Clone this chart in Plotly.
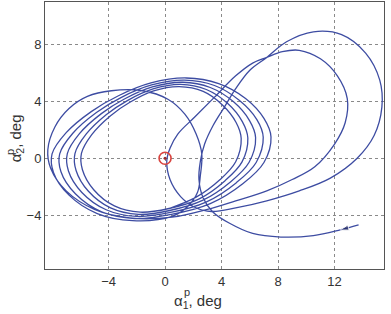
import plotly.graph_objects as go

# ---- data (alpha1^p, alpha2^p in deg) ----
# transient: start (arrow) -> bottom arc -> rise -> outer loop -> "(" past origin -> inner loop
start_x = [13.7, 12.4, 10.5, 8.2, 6.2, 4.6, 3.4, 2.7, 2.4, 2.5, 2.8, 3.4, 4.2, 5.0, 6.0, 7.2,
           8.6, 10.5, 12.5, 14.2, 15.2, 15.35, 14.8, 13.6, 11.7, 9.5, 7.2, 5.0, 3.3, 2.1, 1.1,
           0.35, 0.12, 0.35, 0.9, 2.1, 3.5, 5.0, 6.2, 7.2, 8.3, 9.5, 11.0, 12.2, 12.9, 12.75,
           12.0, 10.6, 9.0, 7.2, 5.0, 3.0]
start_y = [-4.7, -5.05, -5.45, -5.55, -5.3, -4.6, -3.8, -2.8, -1.5, -0.2, 1.0, 2.3, 3.6, 4.9, 6.2, 7.1,
           8.2, 8.9, 8.7, 7.4, 5.5, 3.6, 1.6, 0.0, -1.4, -2.3, -3.0, -3.5, -3.75, -3.45, -2.7,
           -1.5, -0.2, 0.7, 1.7, 2.9, 4.3, 5.8, 6.7, 7.1, 7.5, 7.6, 7.0, 5.8, 4.2, 2.5,
           1.0, -0.6, -1.5, -2.3, -3.0, -3.6]

# first bundle loop with the wide top-left arc
loop1_x = [0.5, -2.5, -5.0, -7.0, -8.1, -8.3, -7.8, -6.8, -5.5, -3.8, -1.6, 0.2, 1.4, 2.2, 2.6, 2.5, 2.3, 1.6]
loop1_y = [-4.15, -4.2, -3.6, -2.3, -0.7, 0.6, 2.2, 3.5, 4.35, 4.75, 4.75, 4.15, 3.1, 1.7, 0.3, -1.2, -2.4, -3.4]

# settling loops of the bundle
loopA_x = [0.5, -2.3, -4.8, -6.8, -7.9, -8.0, -7.0, -5.2, -3.3, -1.0, 1.5, 3.8, 5.7, 7.0, 7.5, 7.0, 5.5, 3.2]
loopA_y = [-4.1, -4.4, -3.9, -2.6, -1.0, 0.3, 1.8, 3.3, 4.4, 5.3, 5.65, 5.25, 4.2, 2.8, 1.5, -0.3, -1.8, -3.2]
loopB_x = [0.44, -2.16, -4.49, -6.35, -7.37, -7.46, -6.53, -4.86, -3.09, -0.95, 1.37, 3.5, 5.25, 6.5, 6.95, 6.45, 5.05, 2.9]
loopB_y = [-3.96, -4.25, -3.77, -2.50, -0.95, 0.31, 1.76, 3.22, 4.29, 5.16, 5.50, 5.12, 4.08, 2.72, 1.47, -0.3, -1.72, -3.09]
loopC_x = [0.39, -2.02, -4.17, -5.89, -6.84, -6.92, -6.06, -4.51, -2.88, -0.90, 1.25, 3.2, 4.85, 5.98, 6.41, 5.95, 4.65, 2.65]
loopC_y = [-3.82, -4.10, -3.63, -2.41, -0.90, 0.32, 1.73, 3.14, 4.17, 5.02, 5.35, 4.98, 3.97, 2.65, 1.45, -0.28, -1.65, -2.97]
loopD_x = [0.33, -1.88, -3.86, -5.44, -6.30, -6.38, -5.59, -4.17, -2.67, -0.85, 1.12, 2.92, 4.42, 5.47, 5.86, 5.45, 4.25, 2.42]
loopD_y = [-3.68, -3.95, -3.50, -2.31, -0.86, 0.33, 1.69, 3.06, 4.06, 4.88, 5.20, 4.84, 3.87, 2.58, 1.42, -0.26, -1.58, -2.86]
loopE_x = [0.28, -1.76, -3.59, -5.05, -5.85, -5.92, -5.19, -3.88, -2.49, -0.81, 1.01, 2.7, 4.06, 5.03, 5.39, 5.0, 3.9, 2.2, 0.28]
loopE_y = [-3.54, -3.80, -3.36, -2.22, -0.81, 0.34, 1.66, 2.98, 3.94, 4.74, 5.04, 4.7, 3.75, 2.52, 1.39, -0.25, -1.5, -2.74, -3.54]

equilibrium_x = [0.0]
equilibrium_y = [0.0]

x_ticks = [-4, 0, 4, 8, 12]
y_ticks = [-4, 0, 4, 8]

traj_x = start_x + loop1_x + loopA_x + loopB_x + loopC_x + loopD_x + loopE_x
traj_y = start_y + loop1_y + loopA_y + loopB_y + loopC_y + loopD_y + loopE_y

LINE = "#3d4ca2"
FONT = "Liberation Sans, Arial, sans-serif"

fig = go.Figure()
fig.add_trace(go.Scatter(x=traj_x, y=traj_y, mode="lines",
                         line=dict(color=LINE, width=1.3, shape="spline", smoothing=1.0),
                         hoverinfo="skip", showlegend=False))
# arrow head at the start of the trajectory
fig.add_trace(go.Scatter(x=start_x[:2], y=start_y[:2], mode="markers",
                         marker=dict(symbol=["circle", "arrow"], size=[1, 9], angleref="previous",
                                     color="#1e2660"),
                         hoverinfo="skip", showlegend=False))
# equilibrium marker
fig.add_trace(go.Scatter(x=equilibrium_x, y=equilibrium_y, mode="markers",
                         marker=dict(symbol="circle-open", size=12, color="#d9443f",
                                     line=dict(width=1.6, color="#d9443f")),
                         hoverinfo="skip", showlegend=False))
fig.add_trace(go.Scatter(x=equilibrium_x, y=equilibrium_y, mode="markers",
                         marker=dict(symbol="circle", size=3, color="#9a2a2a"),
                         hoverinfo="skip", showlegend=False))

axis_common = dict(showgrid=True, gridcolor="#8a8a8a", griddash="dot", gridwidth=1,
                   zeroline=False, showline=True, linecolor="#555555", linewidth=1,
                   mirror=True, ticks="", tickfont=dict(family=FONT, size=13, color="#333333"))

fig.update_layout(
    width=391, height=314,
    margin=dict(l=45, r=7, t=2, b=45),
    paper_bgcolor="white", plot_bgcolor="white",
    xaxis=dict(range=[-8.5, 15.5], tickvals=x_ticks, **axis_common),
    yaxis=dict(range=[-7.8, 11.0], tickvals=y_ticks, **axis_common),
    annotations=[
        dict(text="α<sub>1</sub>, deg", xref="paper", yref="paper", x=0.375, y=-0.12,
             xanchor="left", yanchor="middle", showarrow=False,
             font=dict(family=FONT, size=15, color="#333333")),
        dict(text="p", xref="paper", yref="paper", x=0.418, y=-0.085,
             xanchor="center", yanchor="middle", showarrow=False,
             font=dict(family=FONT, size=11, color="#333333")),
        dict(text="α<sub>2</sub>, deg", xref="paper", yref="paper", x=-0.085, y=0.49,
             xanchor="center", yanchor="middle", textangle=-90, showarrow=False,
             font=dict(family=FONT, size=15, color="#333333")),
        dict(text="p", xref="paper", yref="paper", x=-0.105, y=0.44,
             xanchor="center", yanchor="middle", textangle=-90, showarrow=False,
             font=dict(family=FONT, size=11, color="#333333")),
    ],
)

fig.write_html("out.html", config={"displayModeBar": False},
               post_script="document.body.style.margin='0px';")
